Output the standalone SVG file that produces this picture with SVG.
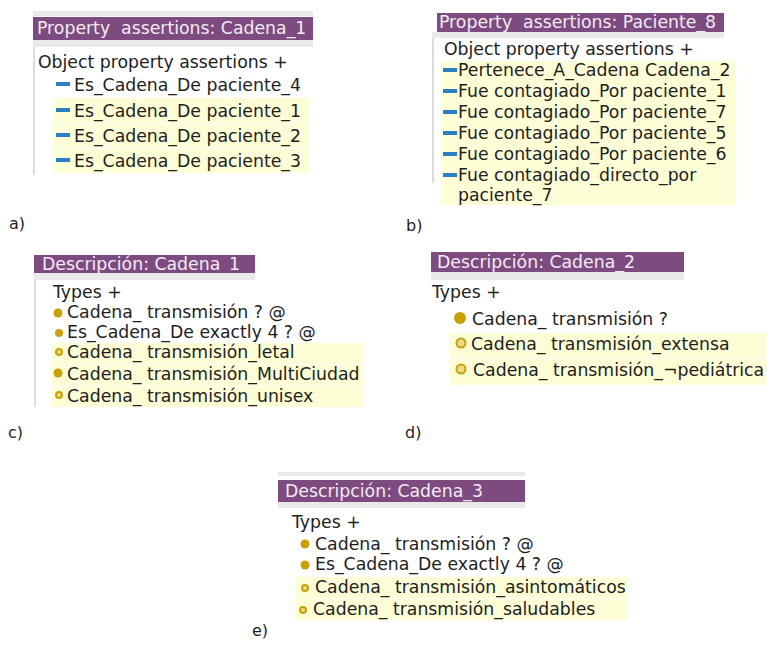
<svg xmlns="http://www.w3.org/2000/svg" width="767" height="646" viewBox="0 0 767 646">
<style>
text{font-family:"DejaVu Sans","Verdana",sans-serif;font-size:17.3px;fill:#1e1e1e;white-space:pre}
.hd{fill:#7d4b7f}
.ht{fill:#f4ecf4}
.gs{fill:#e9e9e9}
.bl{stroke:#dcdcdc;stroke-width:2}
.yl{fill:#fdfdd6}
.sep{stroke:#ffffff;stroke-width:1.2;opacity:.9}
.dash{fill:#2d7ec3}
.fb{fill:#c9a005}
.rb{fill:#ecd98a;stroke:#c9a005;stroke-width:2}
.lb{font-size:16px}
</style>
<rect width="767" height="646" fill="#ffffff"/>

<g id="panel-a">
<rect class="gs" x="33" y="11" width="280" height="5"/>
<rect class="hd" x="33" y="17" width="280" height="23"/>
<text class="ht" x="37" y="34" xml:space="preserve">Property  assertions: Cadena_1</text>
<rect class="gs" x="33" y="40" width="280" height="7"/>
<line class="bl" x1="34" y1="47" x2="34" y2="175"/>
<text x="38" y="68">Object property assertions +</text>
<rect class="dash" x="56" y="82" width="14" height="4"/>
<text x="74" y="91">Es_Cadena_De paciente_4</text>
<rect class="yl" x="53" y="98" width="256" height="75"/>
<line class="sep" x1="53" y1="123.5" x2="309" y2="123.5"/>
<line class="sep" x1="53" y1="148.5" x2="309" y2="148.5"/>
<rect class="dash" x="56" y="108" width="14" height="4"/>
<text x="74" y="117">Es_Cadena_De paciente_1</text>
<rect class="dash" x="56" y="133" width="14" height="4"/>
<text x="74" y="142">Es_Cadena_De paciente_2</text>
<rect class="dash" x="56" y="158" width="14" height="4"/>
<text x="74" y="167">Es_Cadena_De paciente_3</text>
<text class="lb" x="9" y="229">a)</text>
</g>

<g id="panel-b">
<rect class="hd" x="437" y="13" width="287" height="19"/>
<text class="ht" x="439" y="28" xml:space="preserve">Property  assertions: Paciente_8</text>
<rect class="gs" x="432" y="32" width="292" height="6"/>
<line class="bl" x1="433" y1="38" x2="433" y2="183"/>
<text x="444" y="55">Object property assertions +</text>
<rect class="yl" x="441" y="61" width="294" height="144"/>
<rect class="dash" x="443" y="68" width="14" height="4"/>
<text x="458" y="76">Pertenece_A_Cadena Cadena_2</text>
<rect class="dash" x="443" y="89" width="14" height="4"/>
<text x="458" y="97">Fue contagiado_Por paciente_1</text>
<rect class="dash" x="443" y="110" width="14" height="4"/>
<text x="458" y="118">Fue contagiado_Por paciente_7</text>
<rect class="dash" x="443" y="131" width="14" height="4"/>
<text x="458" y="139">Fue contagiado_Por paciente_5</text>
<rect class="dash" x="443" y="152" width="14" height="4"/>
<text x="458" y="160">Fue contagiado_Por paciente_6</text>
<rect class="dash" x="443" y="173" width="14" height="4"/>
<text x="458" y="181">Fue contagiado_directo_por</text>
<text x="458" y="201">paciente_7</text>
<text class="lb" x="406" y="231">b)</text>
</g>

<g id="panel-c">
<rect class="hd" x="34" y="255" width="221" height="18"/>
<text class="ht" x="42" y="270">Descripción: Cadena_1</text>
<rect class="gs" x="34" y="273" width="221" height="7"/>
<line class="bl" x1="35" y1="280" x2="35" y2="407"/>
<text x="53" y="298">Types +</text>
<circle class="fb" cx="58" cy="313" r="4.5"/>
<text x="67" y="318">Cadena_ transmisión ? @</text>
<circle class="fb" cx="59" cy="333" r="4"/>
<text x="67" y="338">Es_Cadena_De exactly 4 ? @</text>
<rect class="yl" x="52" y="343" width="311" height="64"/>
<line class="sep" x1="52" y1="364.5" x2="363" y2="364.5"/>
<line class="sep" x1="52" y1="386.5" x2="363" y2="386.5"/>
<circle class="rb" cx="59" cy="352" r="3" stroke-width="1.6"/>
<text x="67" y="358">Cadena_ transmisión_letal</text>
<circle class="fb" cx="58" cy="373" r="4.5"/>
<text x="67" y="380">Cadena_ transmisión_MultiCiudad</text>
<circle class="rb" cx="59" cy="395" r="3" stroke-width="1.6"/>
<text x="67" y="402">Cadena_ transmisión_unisex</text>
<text class="lb" x="8" y="438">c)</text>
</g>

<g id="panel-d">
<rect class="hd" x="431" y="252" width="253" height="20"/>
<text class="ht" x="437" y="268">Descripción: Cadena_2</text>
<rect class="gs" x="431" y="272" width="253" height="8"/>
<text x="432" y="298">Types +</text>
<circle class="fb" cx="460" cy="318" r="6"/>
<text x="472" y="325">Cadena_ transmisión ?</text>
<rect class="yl" x="450" y="333" width="317" height="52"/>
<line class="sep" x1="450" y1="358.5" x2="767" y2="358.5"/>
<circle class="rb" cx="461" cy="343" r="4.5"/>
<text x="471" y="350">Cadena_ transmisión_extensa</text>
<circle class="rb" cx="461" cy="369" r="4.5"/>
<text x="473" y="376">Cadena_ transmisión_¬pediátrica</text>
<text class="lb" x="405" y="438">d)</text>
</g>

<g id="panel-e">
<rect class="gs" x="278" y="472" width="247" height="4"/>
<rect class="hd" x="278" y="480" width="247" height="22"/>
<text class="ht" x="285" y="497">Descripción: Cadena_3</text>
<rect class="gs" x="278" y="502" width="247" height="6"/>
<text x="292" y="528">Types +</text>
<circle class="fb" cx="305" cy="544" r="4.5"/>
<text x="315" y="550">Cadena_ transmisión ? @</text>
<circle class="fb" cx="305" cy="565" r="4.5"/>
<text x="315" y="570">Es_Cadena_De exactly 4 ? @</text>
<rect class="yl" x="295" y="577" width="333" height="43"/>
<line class="sep" x1="295" y1="598.5" x2="628" y2="598.5"/>
<circle class="rb" cx="305" cy="588" r="3" stroke-width="1.6"/>
<text x="315" y="593">Cadena_ transmisión_asintomáticos</text>
<circle class="rb" cx="303" cy="610" r="3" stroke-width="1.6"/>
<text x="313" y="615">Cadena_ transmisión_saludables</text>
<text class="lb" x="252" y="636">e)</text>
</g>

<g id="connectors"/>
</svg>
